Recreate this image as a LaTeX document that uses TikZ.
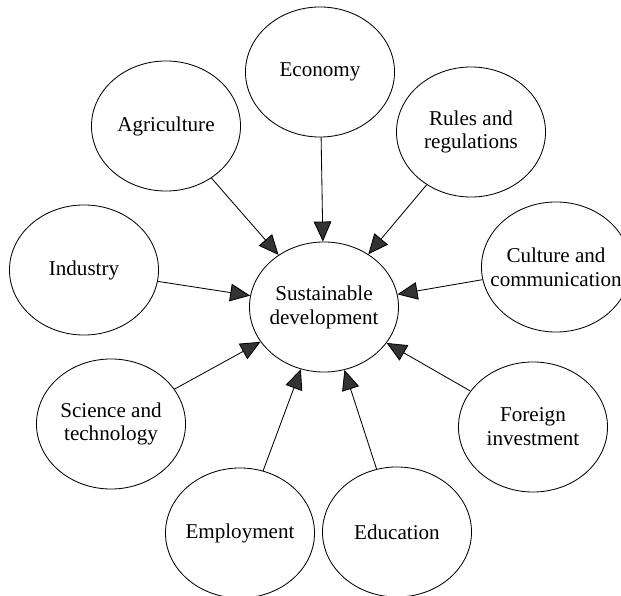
\documentclass[tikz,border=0pt]{standalone}
\usepackage{fontspec}
\setmainfont{Liberation Serif}
\usetikzlibrary{shapes.geometric,arrows.meta}

\begin{document}
\begin{tikzpicture}[x=0.025cm,y=-0.025cm,
  lbl/.style={align=center,font=\fontsize{15}{17}\selectfont},
  bub/.style={ellipse,draw,line width=0.6pt,minimum width=3.725cm,minimum height=3.25cm,inner sep=0pt,label={[lbl]center:#1}},
  inf/.style={draw,line width=0.6pt,-{Triangle[length=5mm,width=4.4mm,fill=black!80]}}]
  \useasboundingbox (0,0) rectangle (621,596);

  \node[bub={Sustainable\\development}] (sd) at (324,307) {};
  \node[bub={Economy}] (eco) at (320,72) {};
  \node[bub={Agriculture}] (agr) at (166,126) {};
  \node[bub={Rules and\\regulations}] (rul) at (471,132) {};
  \node[bub={Industry}] (ind) at (84,270) {};
  \node[bub={Culture and\\communication}] (cul) at (556,267) {};
  \node[bub={Science and\\technology}] (sci) at (111,424) {};
  \node[bub={Foreign\\investment}] (for) at (533,427) {};
  \node[bub={Employment}] (emp) at (240,533) {};
  \node[bub={Education}] (edu) at (397,532) {};

  \draw[inf] (eco) -- (sd);
  \draw[inf] (agr) -- (sd);
  \draw[inf] (rul) -- (sd);
  \draw[inf] (ind) -- (sd);
  \draw[inf] (cul) -- (sd);
  \draw[inf] (sci) -- (sd);
  \draw[inf] (for) -- (sd);
  \draw[inf] (emp) -- (sd);
  \draw[inf] (edu) -- (sd);
\end{tikzpicture}
\end{document}
